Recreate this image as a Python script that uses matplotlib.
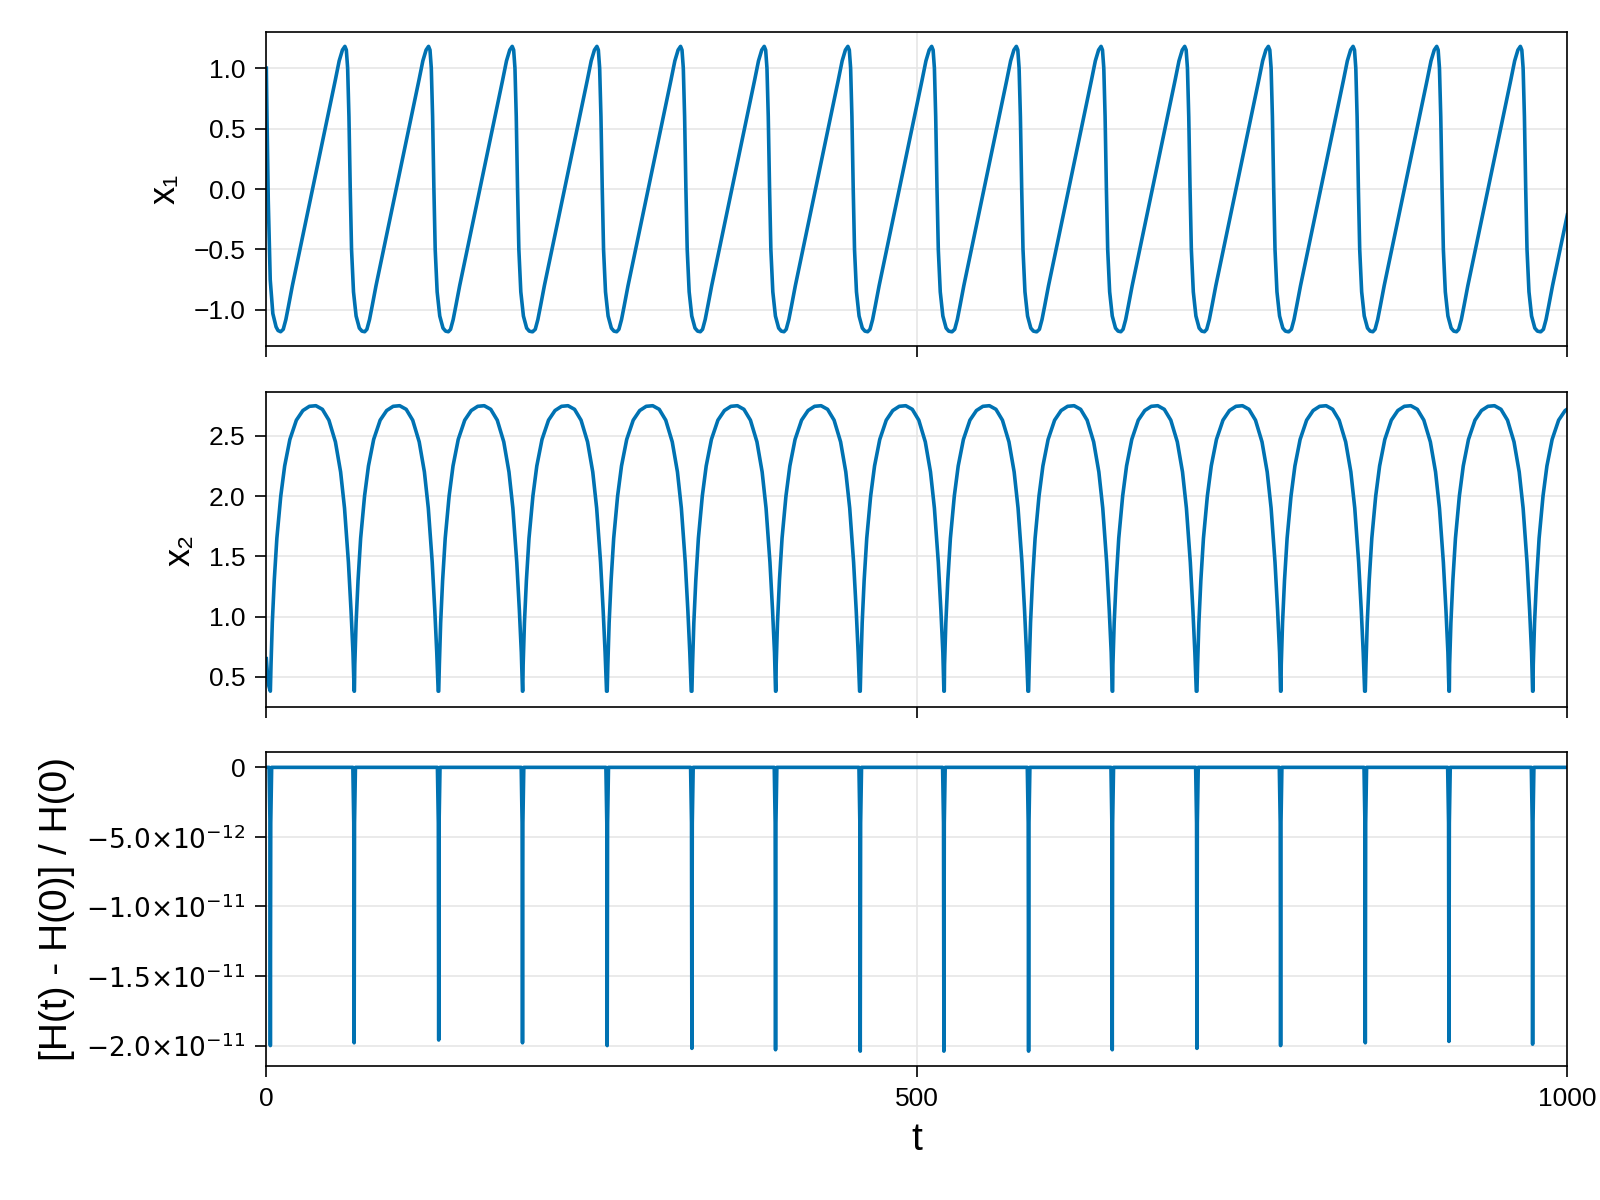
import numpy as np
import matplotlib.pyplot as plt
from matplotlib.ticker import FixedLocator

plt.rcParams['font.family'] = ['Liberation Sans', 'DejaVu Sans']

# --- data ---
# times of x1 troughs (t)
x1_trough_t = [11.0, 75.3, 139.6, 204.7, 269.0, 333.3, 397.6, 462.0, 527.1, 592.2, 656.5, 720.8, 785.9, 850.2, 914.5, 979.6]
# one x1 cycle, offsets from trough and values
x1_cyc_dt = [0, 2, 4, 6, 9, 42, 45, 47.5, 49.4, 50.5, 51.5, 52.5, 53.5, 54.5, 56, 58, 60.5, 62.5, 64.6]
x1_cyc_v = [-1.18, -1.16, -1.08, -0.97, -0.8, 0.9, 1.06, 1.15, 1.18, 1.15, 1.0, 0.6, 0.0, -0.5, -0.85, -1.05, -1.15, -1.175, -1.18]
x1_start_t = [0.0, 0.5, 1.5, 3.0, 5.0, 7.5, 9.0]
x1_start_v = [1.0, 0.6, -0.1, -0.75, -1.03, -1.14, -1.17]

# times of x2 minima
x2_min_t = [3.1, 67.5, 132.5, 196.9, 262.0, 327.1, 391.4, 456.5, 520.8, 585.9, 650.2, 715.3, 779.6, 844.7, 909.0, 973.3]
x2_cyc_dt = [0, 0.5, 1.5, 3, 5, 8, 11, 15, 20, 25, 30, 35, 40, 45, 50, 54, 57, 60, 62, 63.5, 64.6]
x2_cyc_v = [0.38, 0.6, 0.95, 1.3, 1.65, 2.0, 2.25, 2.47, 2.63, 2.71, 2.745, 2.75, 2.72, 2.63, 2.45, 2.2, 1.9, 1.45, 1.05, 0.7, 0.38]
x2_start_t = [0.0, 1.0, 2.0]
x2_start_v = [0.65, 0.5, 0.42]

# energy error spikes (at x2 minima), depth in units of 1e-11
h_spike_depth = [-2.0, -1.98, -1.96, -1.98, -2.0, -2.02, -2.03, -2.04, -2.04, -2.04, -2.03, -2.02, -2.0, -1.98, -1.97, -1.99]

T_END = 1000.0
blue = '#0072b2'


def build(start_t, start_v, cyc_starts, dt, v):
    t = list(start_t)
    y = list(start_v)
    for c in cyc_starts:
        for d, val in zip(dt, v):
            t.append(c + d)
            y.append(val)
    t = np.array(t); y = np.array(y)
    order = np.argsort(t, kind='stable')
    t, y = t[order], y[order]
    yend = np.interp(T_END, t, y)
    keep = t < T_END
    return np.append(t[keep], T_END), np.append(y[keep], yend)


t1, y1 = build(x1_start_t, x1_start_v, x1_trough_t, x1_cyc_dt, x1_cyc_v)
t2, y2 = build(x2_start_t, x2_start_v, x2_min_t, x2_cyc_dt, x2_cyc_v)

th = [0.0]
yh = [0.0]
for ts, dep in zip(x2_min_t, h_spike_depth):
    th += [ts - 1.0, ts - 0.3, ts, ts + 0.3, ts + 1.0]
    yh += [0.0, -0.4e-11, dep * 1e-11, -0.4e-11, 0.0]
th.append(T_END); yh.append(0.0)

W, H = 1568, 1168
fig = plt.figure(figsize=(8, 6), dpi=200)
left, right = 261 / W, 1536 / W
def pos(top, bot):
    return [left, 1 - bot / H, right - left, (bot - top) / H]

ax1 = fig.add_axes(pos(31, 337))
ax2 = fig.add_axes(pos(382, 688))
ax3 = fig.add_axes(pos(732, 1038))

ax1.plot(t1, y1, color=blue, lw=1.3)
ax2.plot(t2, y2, color=blue, lw=1.3)
ax3.plot(th, yh, color=blue, lw=1.3)

for ax in (ax1, ax2, ax3):
    ax.set_xlim(0, 1000)
    ax.xaxis.set_major_locator(FixedLocator([0, 500, 1000]))
    ax.grid(True, color='#e6e6e6', lw=0.6)
    ax.set_axisbelow(True)
    ax.tick_params(direction='out', length=4, width=0.6, labelsize=9.5)
    for s in ax.spines.values():
        s.set_linewidth(0.6)
for ax in (ax1, ax2):
    ax.tick_params(labelbottom=False)

ax1.set_ylim(-1.3, 1.3)
ax1.set_yticks([-1.0, -0.5, 0.0, 0.5, 1.0])
ax1.set_yticklabels(['−1.0', '−0.5', '0.0', '0.5', '1.0'])
ax1.set_ylabel('x₁', fontsize=13)

ax2.set_ylim(0.25, 2.86)
ax2.set_yticks([0.5, 1.0, 1.5, 2.0, 2.5])
ax2.set_yticklabels(['0.5', '1.0', '1.5', '2.0', '2.5'])
ax2.set_ylabel('x₂', fontsize=13)

ax3.set_ylim(-2.15e-11, 0.11e-11)
ax3.set_yticks([0, -0.5e-11, -1.0e-11, -1.5e-11, -2.0e-11])
ax3.set_yticklabels(['0', r'$-5.0{\times}10^{-12}$', r'$-1.0{\times}10^{-11}$',
                     r'$-1.5{\times}10^{-11}$', r'$-2.0{\times}10^{-11}$'])
ax3.set_ylabel('[H(t) - H(0)] / H(0)', fontsize=14)
ax3.set_xlabel('t', fontsize=14)

fig.savefig('out.png', dpi=200)
